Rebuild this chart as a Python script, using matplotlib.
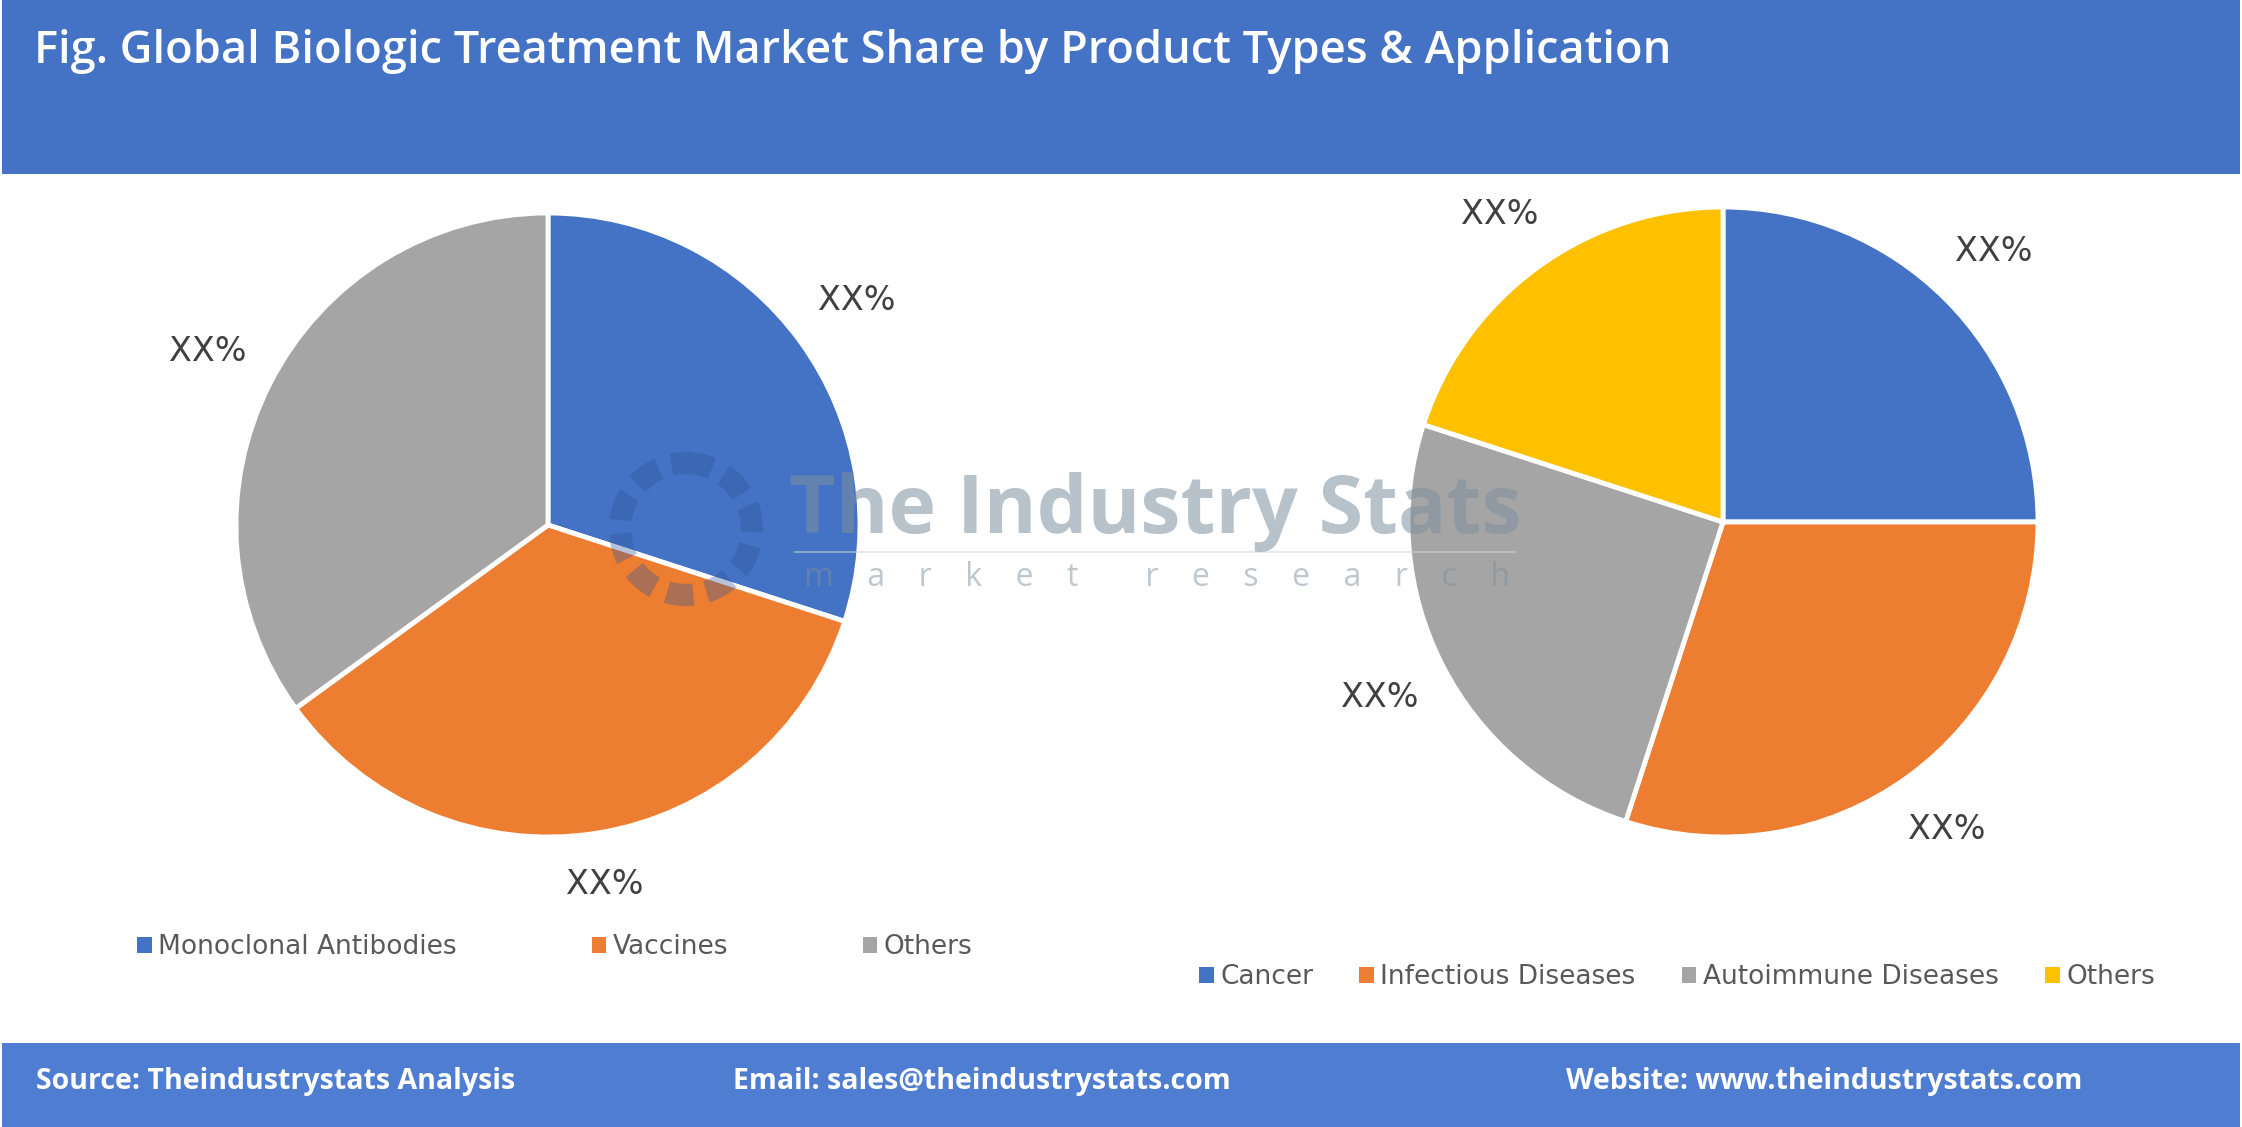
import matplotlib
matplotlib.use("Agg")
import numpy as np
import matplotlib.pyplot as plt
from matplotlib.patches import Rectangle, Patch

W, H = 2242, 1127
DPI = 100

title = "Fig. Global Biologic Treatment Market Share by Product Types & Application"

product_types = ["Monoclonal Antibodies", "Vaccines", "Others"]
product_values = [30, 35, 35]
product_labels = ["XX%", "XX%", "XX%"]

applications = ["Cancer", "Infectious Diseases", "Autoimmune Diseases", "Others"]
application_values = [25, 30, 25, 20]
application_labels = ["XX%", "XX%", "XX%", "XX%"]

footer_source = "Source: Theindustrystats Analysis"
footer_email = "Email: sales@theindustrystats.com"
footer_web = "Website: www.theindustrystats.com"

c_blue = "#4472C4"
c_orange = "#ED7D31"
c_gray = "#A5A5A5"
c_yellow = "#FFC000"
left_colors = [c_blue, c_orange, c_gray]
right_colors = [c_blue, c_orange, c_gray, c_yellow]

fig = plt.figure(figsize=(W / DPI, H / DPI), dpi=DPI)
fig.patch.set_facecolor("white")


def px_axes(x0, y0, w, h):
    """x0,y0 top-left in pixels from top-left."""
    return [x0 / W, 1 - (y0 + h) / H, w / W, h / H]


# header / footer bands
bg = fig.add_axes([0, 0, 1, 1], zorder=0)
bg.set_xlim(0, W)
bg.set_ylim(H, 0)
bg.axis("off")
bg.add_patch(Rectangle((2, 0), W - 4, 174, color="#4472C4", lw=0))
bg.add_patch(Rectangle((2, 1043), W - 4, H - 1043, color="#4E7DD2", lw=0))
bg.text(34, 52, title, color="white", fontsize=32.5, fontweight="semibold",
        family="Open Sans", va="center", ha="left")
fy = 1082
for x, s in [(36, footer_source), (733, footer_email), (1566, footer_web)]:
    bg.text(x, fy, s, color="white", fontsize=20.5, fontweight="bold",
            family="Open Sans", va="center", ha="left")


def draw_pie(ax, values, labels, colors):
    wedges, texts = ax.pie(values, labels=labels, colors=colors, startangle=90,
                           counterclock=False, labeldistance=1.0,
                           wedgeprops=dict(edgecolor="white", linewidth=3.5),
                           textprops=dict(fontsize=24, color="#404040"))
    gap, hw, hh = 0.096, 0.118, 0.052
    for t in texts:
        x, y = t.get_position()
        d = np.hypot(x, y)
        dx, dy = x / d, y / d
        r = 1 + gap + abs(dx) * hw + abs(dy) * hh
        t.set_position((dx * r, dy * r))
        t.set_ha("center")
        t.set_va("center")
    ax.set_xlim(-1, 1)
    ax.set_ylim(-1, 1)
    ax.set_aspect("equal")
    ax.axis("off")
    return wedges


axL = fig.add_axes(px_axes(548 - 312, 525 - 312, 624, 624), zorder=1)
draw_pie(axL, product_values, product_labels, left_colors)
axR = fig.add_axes(px_axes(1723 - 315, 522 - 315, 630, 630), zorder=1)
draw_pie(axR, application_values, application_labels, right_colors)

# legends
leg_kw = dict(frameon=False, fontsize=19, handlelength=0.55, handleheight=0.55,
              handletextpad=0.25, labelcolor="#595959", loc="center")
hl = [Patch(facecolor=c, edgecolor="none") for c in left_colors]
fig.legend(hl, product_types, ncol=3, columnspacing=5.1,
           bbox_to_anchor=(555 / W, 1 - 947 / H), **leg_kw)
hr = [Patch(facecolor=c, edgecolor="none") for c in right_colors]
fig.legend(hr, applications, ncol=4, columnspacing=1.75,
           bbox_to_anchor=(1677 / W, 1 - 977 / H), **leg_kw)

# watermark
wm = fig.add_axes([0, 0, 1, 1], zorder=3)
wm.set_xlim(0, W)
wm.set_ylim(H, 0)
wm.axis("off")
wm.text(1155, 512, "The Industry Stats", fontsize=58, fontweight="bold",
        family="Open Sans", color="#7f909f", alpha=0.55, ha="center", va="center")
wm.text(1157, 577, "m    a    r    k    e    t        r    e    s    e    a    r    c    h",
        fontsize=23, family="Open Sans", color="#7f909f", alpha=0.5,
        ha="center", va="center")
wm.plot([795, 1515], [552, 552], color="#d0d6dc", lw=1.5, alpha=0.5)
gear = plt.Circle((686, 529), 66, fill=False, lw=16, ls=(0, (1.2, 0.6)),
                  edgecolor="#2f5597", alpha=0.35)
wm.add_patch(gear)

fig.savefig("out.png", dpi=DPI)
